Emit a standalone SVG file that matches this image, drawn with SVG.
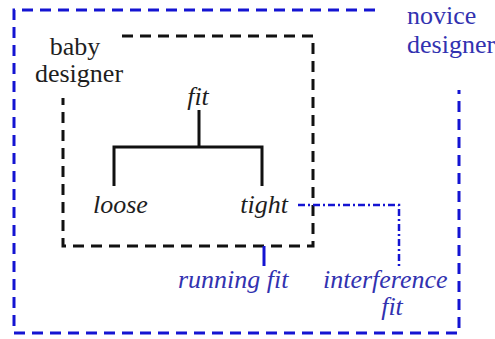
<svg xmlns="http://www.w3.org/2000/svg" width="495" height="339" viewBox="0 0 495 339">
<style>
.t{font-family:'Liberation Serif','Times New Roman',serif;font-size:26px}
.i{font-style:italic}
.k{fill:#1e1e1e}
.b{fill:#3232b0}
.bd{fill:none;stroke:#1414d2;stroke-width:3;stroke-dasharray:11 7}
.kd{fill:none;stroke:#111;stroke-width:3;stroke-dasharray:11 7}
.tree{fill:none;stroke:#111;stroke-width:3}
.dd{fill:none;stroke:#1414d2;stroke-width:2.5;stroke-dasharray:7 3 2 3}
.sl{fill:none;stroke:#1414d2;stroke-width:3}
</style>
<rect width="495" height="339" fill="#fff"/>
<g id="novice-designer">
<path class="bd" d="M375,10 H14 V333 H459 V90"/>
<text class="t b" x="407" y="24">novice</text>
<text class="t b" x="407" y="53">designer</text>
</g>
<g id="baby-designer">
<path class="kd" d="M122,36 H313 V246 H63 V98"/>
<text class="t k" x="75" y="55" text-anchor="middle">baby</text>
<text class="t k" x="79" y="82" text-anchor="middle">designer</text>
</g>
<g id="fit">
<text class="t i k" x="198" y="105" text-anchor="middle">fit</text>
</g>
<g id="loose">
<text class="t i k" x="93" y="213">loose</text>
</g>
<g id="tight">
<text class="t i k" x="288" y="213" text-anchor="end">tight</text>
</g>
<g id="running-fit">
<text class="t i b" x="178" y="288">running fit</text>
</g>
<g id="interference-fit">
<text class="t i b" x="323" y="288">interference</text>
<text class="t i b" x="392" y="315" text-anchor="middle">fit</text>
</g>
<g id="connectors">
<path class="tree" d="M199,110 V147 M114,186 V147 H262 V186"/>
<path class="dd" d="M298,205 H399 V269"/>
<path class="sl" d="M264,246 V266"/>
</g>
</svg>
